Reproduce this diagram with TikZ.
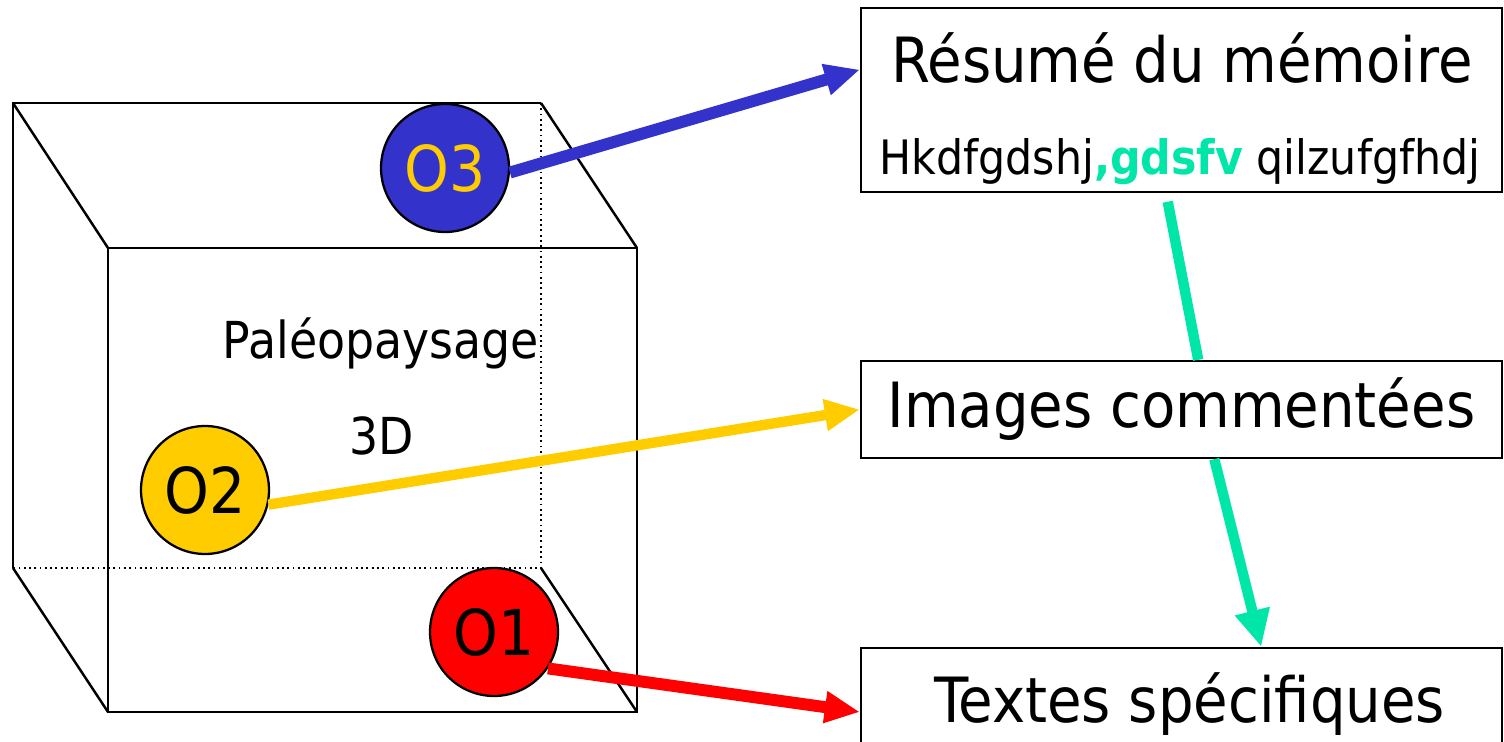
\documentclass[tikz,border=0pt]{standalone}
\usepackage{fontspec}
\setmainfont{DejaVu Sans Condensed}
\usetikzlibrary{arrows.meta,calc}
\definecolor{oblue}{RGB}{51,51,204}
\definecolor{oyellow}{RGB}{255,204,0}
\definecolor{ored}{RGB}{255,0,0}
\definecolor{oteal}{RGB}{0,230,168}
\begin{document}
\begin{tikzpicture}[x=0.02cm,y=-0.02cm,
    edge/.style={line width=1.4pt},
    hidden/.style={line width=1pt,dash pattern=on 1pt off 2pt},
    obj/.style={circle,draw,line width=1.3pt,minimum size=2.56cm,inner sep=0pt,
        font=\fontsize{36}{40}\selectfont},
    box/.style={draw,line width=1.3pt,minimum width=12.82cm,inner sep=0pt},
    link/.style={line width=#1,-{Triangle[length=20pt,width=17pt]}},
    link/.default=6.8pt]
        \useasboundingbox (0,0) rectangle (1504,742);
        %% Cube
        \draw[edge] (541,103) -- (13,103) -- (13,568);
        \draw[hidden] (541,103) -- (541,568) -- (13,568);
        \draw[edge] (13,103) -- (108,248);
        \draw[edge] (541,103) -- (637,248);
        \draw[edge] (13,568) -- (108,712);
        \draw[edge] (541,568) -- (637,712);
        \draw[edge] (108,248) rectangle (637,712);
        \node[anchor=base,font=\fontsize{29}{34}\selectfont] (paleo) at (381,359) {Paléopaysage};
        \node[anchor=base,font=\fontsize{29}{34}\selectfont] (troisd) at (382,455) {3D};
        %% Objects
        \node[obj,fill=oblue,text=oyellow] (o3) at (445,168) {O3};
        \node[obj,fill=oyellow] (o2) at (205,490) {O2};
        \node[obj,fill=ored] (o1) at (494,632) {O1};
        %% Boxes
        \node[box,minimum height=3.68cm] (resume) at (1181.5,100) {};
        \node[anchor=base,font=\fontsize{35.5}{40}\selectfont] (resumetitle) at (1182,83) {Résumé du mémoire};
        \node[anchor=base,font=\fontsize{27}{32}\selectfont] (resumetext) at (1180,175)
            {Hkdfgdshj\textcolor{oteal}{\textbf{,gdsfv}} qilzufgfhdj};
        \node[box,minimum height=1.94cm,font=\fontsize{35.5}{40}\selectfont] (images) at (1181.5,409.5) {Images commentées};
        \node[box,minimum height=2.56cm] (textes) at (1181.5,712) {};
        \node[anchor=base,font=\fontsize{35.5}{40}\selectfont] (textestitle) at (1190,722) {Textes spécifiques};
        %% Links
        \draw[link,oblue] (o3.-4) -- ($(resume.north west)!0.337!(resume.south west)$);
        \draw[link=5.9pt,oyellow] (o2.-13) -- (images.west);
        \draw[link,ored] (o1.-34) -- (textes.west);
        \draw[line width=5.9pt,oteal,shorten <=5pt]
            ($(resume.south west)!0.476!(resume.south east)$) -- ($(images.north west)!0.526!(images.north east)$);
        \draw[line width=5.9pt,oteal,-{Triangle[length=21pt,width=19pt]}]
            ($(images.south west)!0.551!(images.south east)$) -- ($(textes.north west)!0.624!(textes.north east)$);
    \end{tikzpicture}
\end{document}
